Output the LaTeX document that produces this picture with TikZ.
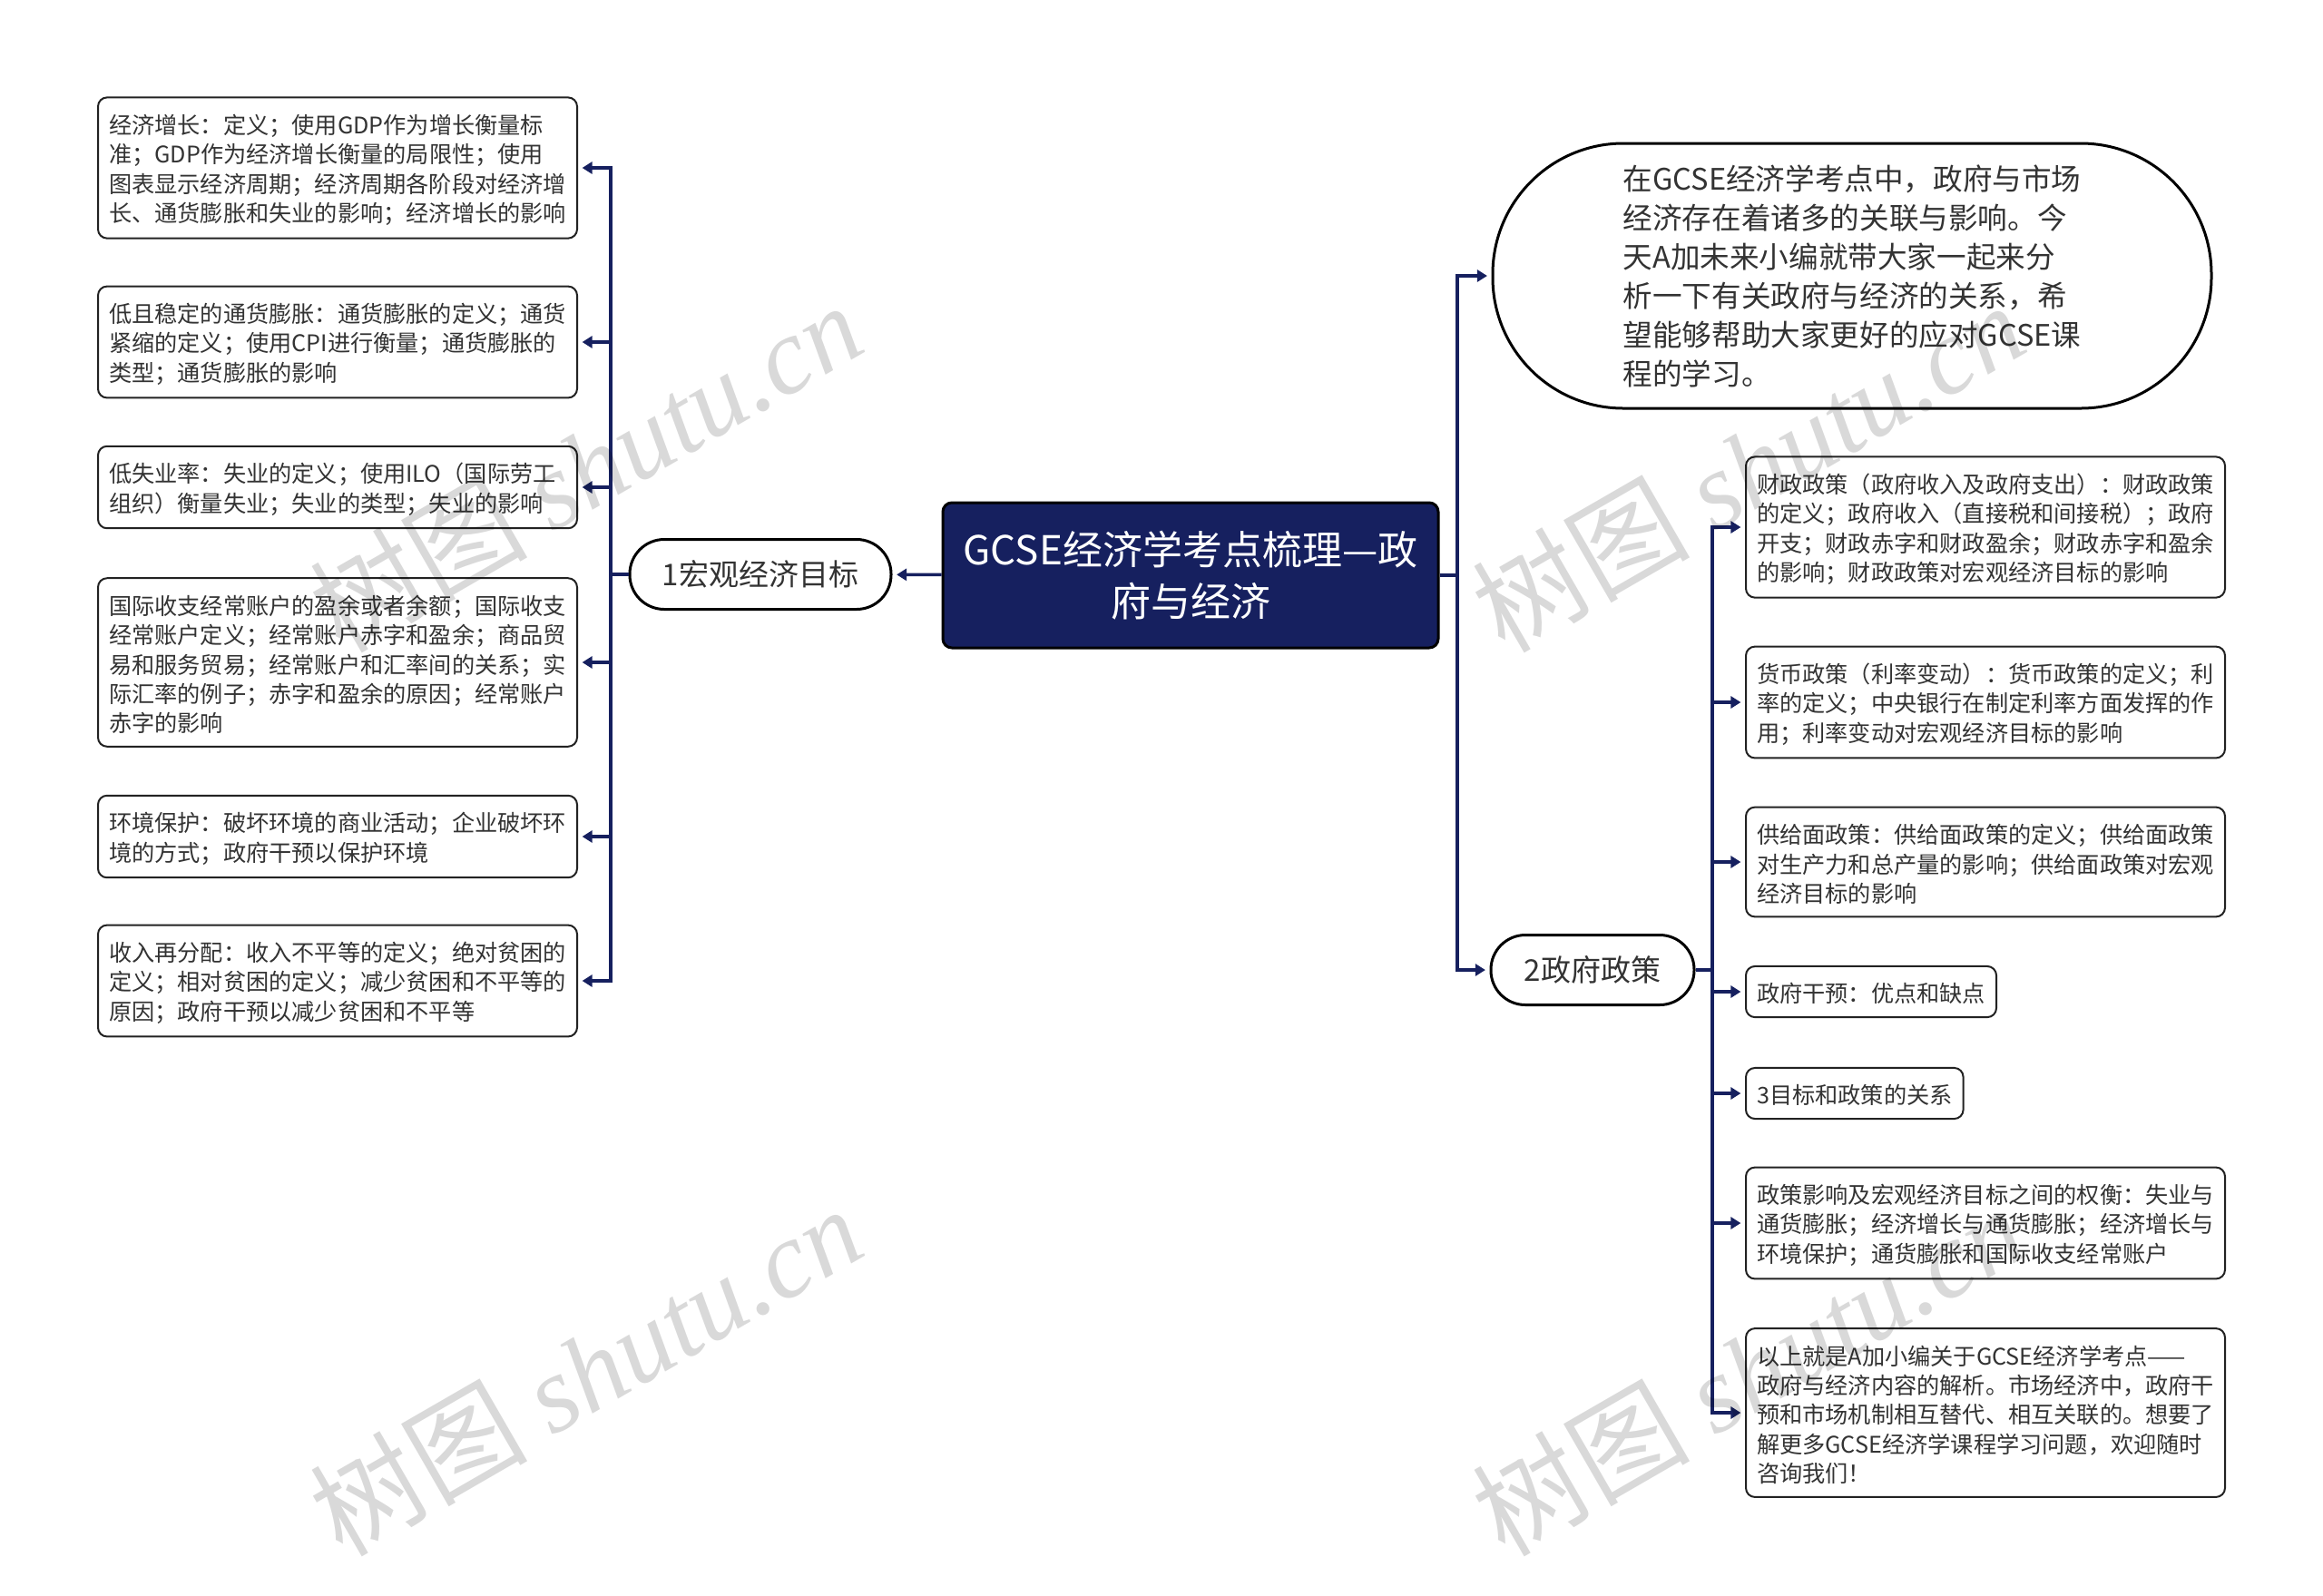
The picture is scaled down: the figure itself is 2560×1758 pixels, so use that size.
\documentclass[tikz,border=0pt]{standalone}
\usepackage{fontspec}
\setmainfont{Noto Sans CJK SC}
\newfontfamily\marklatin{Liberation Serif}
\newfontfamily\markcjk[AutoFakeSlant=0.25]{Noto Sans CJK SC}
\usetikzlibrary{arrows.meta}
\definecolor{navy}{HTML}{16205F}
\definecolor{ink}{HTML}{333333}
\definecolor{edge}{HTML}{222222}
\tikzstyle{root}=[draw=black,fill=navy,text=white,line width=1.5pt,rounded corners=5pt,minimum width=273pt,minimum height=80pt,align=center,font=\fontsize{22}{28.6}\selectfont]
\tikzstyle{pill}=[draw=black,fill=white,text=ink,line width=1.5pt,rounded corners=19pt,minimum height=38.5pt,font=\fontsize{16.5}{21.5}\selectfont]
\tikzstyle{introbox}=[draw=black,fill=white,text=ink,line width=1.5pt,rounded corners=72pt,minimum width=396pt,minimum height=146pt,align=left,font=\fontsize{16.3}{21.5}\selectfont]
\tikzstyle{leaf}=[draw=edge,fill=white,text=ink,line width=1pt,rounded corners=5pt,inner xsep=6pt,inner ysep=7pt,anchor=west,align=left,font=\fontsize{12.6}{16.2}\selectfont,execute at begin node={\rule{0pt}{13pt}}]
\tikzstyle{wideleaf}=[leaf,text width=252pt]
\tikzstyle{wire}=[draw=navy,line width=1.8pt,-{Stealth[length=5.5pt,width=6.5pt,inset=0pt]},shorten >=2.3pt]
\tikzstyle{stamp}=[text=black,opacity=0.15,rotate=30,font=\fontsize{60}{60}\selectfont]
\begin{document}
\begin{tikzpicture}[x=0.5pt,y=-0.5pt]
        \useasboundingbox (0,0) rectangle (2560,1758);
        \node[root] (title) at (1312,634) {GCSE经济学考点梳理—政\\府与经济};
        \node[pill,minimum width=144pt] (goals) at (838,633) {1宏观经济目标};
        \node[pill,minimum width=112pt] (policy) at (1755,1069) {2政府政策};
        \node[introbox] (intro) at (2041,304) {在GCSE经济学考点中，政府与市场\\经济存在着诸多的关联与影响。今\\天A加未来小编就带大家一起来分\\析一下有关政府与经济的关系，希\\望能够帮助大家更好的应对GCSE课\\程的学习。};
        \node[wideleaf] (growth) at (107,185) {经济增长：定义；使用GDP作为增长衡量标\\准；GDP作为经济增长衡量的局限性；使用\\图表显示经济周期；经济周期各阶段对经济增\\长、通货膨胀和失业的影响；经济增长的影响};
        \node[wideleaf] (inflation) at (107,377) {低且稳定的通货膨胀：通货膨胀的定义；通货\\紧缩的定义；使用CPI进行衡量；通货膨胀的\\类型；通货膨胀的影响};
        \node[wideleaf] (jobs) at (107,537) {低失业率：失业的定义；使用ILO（国际劳工\\组织）衡量失业；失业的类型；失业的影响};
        \node[wideleaf] (balance) at (107,730) {国际收支经常账户的盈余或者余额；国际收支\\经常账户定义；经常账户赤字和盈余；商品贸\\易和服务贸易；经常账户和汇率间的关系；实\\际汇率的例子；赤字和盈余的原因；经常账户\\赤字的影响};
        \node[wideleaf] (green) at (107,922) {环境保护：破坏环境的商业活动；企业破坏环\\境的方式；政府干预以保护环境};
        \node[wideleaf] (income) at (107,1081) {收入再分配：收入不平等的定义；绝对贫困的\\定义；相对贫困的定义；减少贫困和不平等的\\原因；政府干预以减少贫困和不平等};
        \node[wideleaf] (fiscal) at (1923,581) {财政政策（政府收入及政府支出）：财政政策\\的定义；政府收入（直接税和间接税）；政府\\开支；财政赤字和财政盈余；财政赤字和盈余\\的影响；财政政策对宏观经济目标的影响};
        \node[wideleaf] (money) at (1923,774) {货币政策（利率变动）：货币政策的定义；利\\率的定义；中央银行在制定利率方面发挥的作\\用；利率变动对宏观经济目标的影响};
        \node[wideleaf] (supply) at (1923,950) {供给面政策：供给面政策的定义；供给面政策\\对生产力和总产量的影响；供给面政策对宏观\\经济目标的影响};
        \node[leaf] (steer) at (1923,1093) {政府干预：优点和缺点};
        \node[leaf] (link) at (1923,1205) {3目标和政策的关系};
        \node[wideleaf] (tradeoff) at (1923,1348) {政策影响及宏观经济目标之间的权衡：失业与\\通货膨胀；经济增长与通货膨胀；经济增长与\\环境保护；通货膨胀和国际收支经常账户};
        \node[wideleaf] (outro) at (1923,1557) {以上就是A加小编关于GCSE经济学考点——\\政府与经济内容的解析。市场经济中，政府干\\预和市场机制相互替代、相互关联的。想要了\\解更多GCSE经济学课程学习问题，欢迎随时\\咨询我们！};
        \coordinate (goaljoin) at (673,633);
        \coordinate (titlejoin) at (1606,634);
        \coordinate (policyjoin) at (1887,1069);
        \draw[wire] (title) -- (goals);
        \draw[wire] (goals.west) -- (goaljoin) |- (growth.east);
        \draw[wire] (goals.west) -- (goaljoin) |- (inflation.east);
        \draw[wire] (goals.west) -- (goaljoin) |- (jobs.east);
        \draw[wire] (goals.west) -- (goaljoin) |- (balance.east);
        \draw[wire] (goals.west) -- (goaljoin) |- (green.east);
        \draw[wire] (goals.west) -- (goaljoin) |- (income.east);
        \draw[wire] (title.east) -- (titlejoin) |- (intro.west);
        \draw[wire] (title.east) -- (titlejoin) |- (policy.west);
        \draw[wire] (policy.east) -- (policyjoin) |- (fiscal.west);
        \draw[wire] (policy.east) -- (policyjoin) |- (money.west);
        \draw[wire] (policy.east) -- (policyjoin) |- (supply.west);
        \draw[wire] (policy.east) -- (policyjoin) |- (steer.west);
        \draw[wire] (policy.east) -- (policyjoin) |- (link.west);
        \draw[wire] (policy.east) -- (policyjoin) |- (tradeoff.west);
        \draw[wire] (policy.east) -- (policyjoin) |- (outro.west);
        \node[stamp] (mark1) at (645,514) {\markcjk 树图 \marklatin\itshape shutu.cn};
        \node[stamp] (mark2) at (1926,514) {\markcjk 树图 \marklatin\itshape shutu.cn};
        \node[stamp] (mark3) at (645,1510) {\markcjk 树图 \marklatin\itshape shutu.cn};
        \node[stamp] (mark4) at (1926,1510) {\markcjk 树图 \marklatin\itshape shutu.cn};
    \end{tikzpicture}
\end{document}
